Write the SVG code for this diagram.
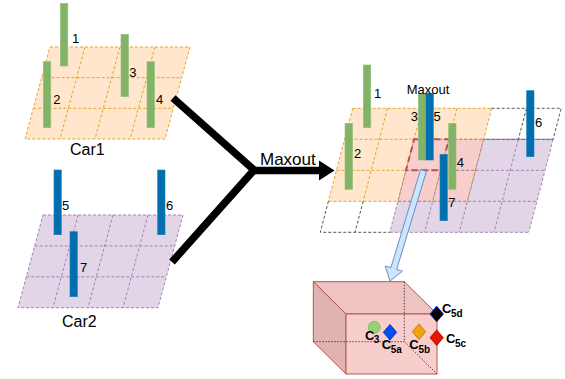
<svg xmlns="http://www.w3.org/2000/svg" width="565" height="379" viewBox="0 0 565 379">
<style>
text{font-family:"Liberation Sans",Arial,sans-serif;fill:#000}
.num{font-size:13px}
.car{font-size:16px}
.org{fill:#ffe6cc;stroke:none}
.pur{fill:#e1d5e7;stroke:none}
.ovl{fill:#f8cecc;stroke:none}
.ol{fill:none;stroke:#e0a82e;stroke-width:1;stroke-dasharray:3 2}
.pl{fill:none;stroke:#a383b3;stroke-width:1;stroke-dasharray:3 2}
.wl{fill:none;stroke:#555;stroke-width:1;stroke-dasharray:3 2}
.g{fill:#82b366;stroke:#93c07a;stroke-width:0.6}
.b{fill:#006eaf;stroke:#1a7fb8;stroke-width:0.6}
.cl{font-size:13px;font-weight:bold}
.sub{font-size:10px;font-weight:bold}
.hid{fill:none;stroke:#222;stroke-width:0.8;stroke-dasharray:1.5 1.5}
</style>

<g id="car1">
<path class="org" d="M50,47H190L165,139H25Z"/>
<path class="ol" d="M50,47H190L165,139H25Z M41.67,77.67H181.67 M33.33,108.33H173.33 M85,47L60,139 M120,47L95,139 M155,47L130,139"/>
<rect class="g" x="60.3" y="3.3" width="7.5" height="62.7"/>
<rect class="g" x="43.3" y="61.7" width="7.5" height="66"/>
<rect class="g" x="121" y="34.3" width="7.5" height="62.4"/>
<rect class="g" x="147" y="61.7" width="7.5" height="66"/>
<text class="num" x="72" y="42.5">1</text>
<text class="num" x="53.3" y="104">2</text>
<text class="num" x="129.3" y="76.5">3</text>
<text class="num" x="156" y="104">4</text>
<text class="car" x="70" y="155">Car1</text>
</g>

<g id="car2">
<path class="pur" d="M43,215H183L158,307.7H18Z"/>
<path class="pl" d="M43,215H183L158,307.7H18Z M34.67,245.9H174.67 M26.33,276.8H166.33 M78,215L53,307.7 M113,215L88,307.7 M148,215L123,307.7"/>
<rect class="b" x="54" y="170" width="7.3" height="64.7"/>
<rect class="b" x="157.7" y="170" width="7.3" height="64.7"/>
<rect class="b" x="70" y="231.7" width="7.3" height="65"/>
<text class="num" x="62" y="209.5">5</text>
<text class="num" x="166" y="209.5">6</text>
<text class="num" x="80" y="271.5">7</text>
<text class="car" x="62" y="327">Car2</text>
</g>

<g id="result">
<path class="org" d="M352.7,108.3H491.7L467.4,201.3H328.4Z"/>
<path class="pur" d="M414.1,139.3H553.1L528.8,232.3H389.8Z"/>
<path class="ovl" d="M414.1,139.3H483.6L467.4,201.3H397.9Z"/>
<path class="ol" d="M352.7,108.3H491.7 M344.6,139.3H483.6 M336.5,170.3H475.5 M328.4,201.3H467.4 M352.7,108.3L328.4,201.3 M387.45,108.3L363.15,201.3 M422.2,108.3L397.9,201.3 M456.95,108.3L432.65,201.3 M491.7,108.3L467.4,201.3"/>
<path class="pl" d="M414.1,139.3H553.1 M406,170.3H545 M397.9,201.3H536.9 M389.8,232.3H528.8 M414.1,139.3L389.8,232.3 M448.85,139.3L424.55,232.3 M483.6,139.3L459.3,232.3 M518.35,139.3L494.05,232.3 M553.1,139.3L528.8,232.3"/>
<path class="wl" d="M491.7,108.3H561.2L553.1,139.3H483.6 M526.45,108.3L518.35,139.3 M328.4,201.3L320.3,232.3H389.8 M363.15,201.3L355.05,232.3"/>
<path d="M414.1,139.3H448.85L440.75,170.3H406Z" fill="none" stroke="#b85450" stroke-width="2" stroke-dasharray="6 4"/>
<rect class="g" x="363.3" y="65" width="7.5" height="62.7"/>
<rect class="g" x="345" y="123.3" width="7.6" height="66"/>
<rect class="g" x="418.3" y="93.3" width="7.7" height="66.7"/>
<rect class="b" x="426" y="93.3" width="7.3" height="66.7"/>
<rect class="g" x="448.7" y="123.3" width="7.3" height="66"/>
<rect class="b" x="440" y="154.3" width="7.3" height="66.4"/>
<rect class="b" x="526.7" y="90.7" width="7.3" height="66"/>
<text class="num" x="374" y="98">1</text>
<text class="num" x="354" y="157.5">2</text>
<text class="num" x="410.7" y="120.7">3</text>
<text class="num" x="433.5" y="120.7">5</text>
<text class="num" x="456.7" y="167">4</text>
<text class="num" x="448.3" y="206.5">7</text>
<text class="num" x="535" y="127">6</text>
<text x="406.7" y="94" style="font-size:13px">Maxout</text>
</g>

<g id="cube">
<path d="M313.3,281.7H404.3L437,314H346Z" fill="#efc3c2" stroke="#b85450" stroke-width="1"/>
<path d="M313.3,281.7L346,314V374L313.3,341.7Z" fill="#deb3b2" stroke="#b85450" stroke-width="1"/>
<rect x="346" y="314" width="91" height="60" fill="#f8cecc" stroke="#b85450" stroke-width="1"/>
<path class="hid" d="M404.3,281.7V341.7 M313.3,341.7H404.3 M404.3,341.7L437,374"/>
<circle cx="374.3" cy="327.3" r="6" fill="#97d077" stroke="#82b366" stroke-width="0.8"/>
<path d="M390,324.5L396.7,332.3L390,340.1L383.3,332.3Z" fill="#0050ef" stroke="#001dbc" stroke-width="0.8"/>
<path d="M419,323.9L425.7,331.7L419,339.5L412.3,331.7Z" fill="#f0a30a" stroke="#bd7000" stroke-width="0.8"/>
<path d="M436.7,329.9L443.4,337.7L436.7,345.5L430,337.7Z" fill="#e51400" stroke="#b20000" stroke-width="0.8"/>
<path d="M436.7,306.2L443.4,314L436.7,321.8L430,314Z" fill="#000" stroke="#001dbc" stroke-width="1"/>
<text class="cl" x="365" y="339.5">C</text><text class="sub" x="373.8" y="342.5">3</text>
<text class="cl" x="381.7" y="348.5">C</text><text class="sub" x="390.7" y="353">5a</text>
<text class="cl" x="409.3" y="348.5">C</text><text class="sub" x="418.5" y="353">5b</text>
<text class="cl" x="446" y="343.3">C</text><text class="sub" x="455" y="347">5c</text>
<text class="cl" x="442" y="313.3">C</text><text class="sub" x="451" y="317">5d</text>
</g>

<g id="connectors">
<polyline points="173,98 254,170 172,262" fill="none" stroke="#000" stroke-width="7.5" stroke-linejoin="miter"/>
<line x1="252" y1="170.5" x2="320" y2="170.5" stroke="#000" stroke-width="7.5"/>
<path d="M319,160.5L334.5,170.5L319,180.5Z" fill="#000"/>
<path d="M426.4,171.4L396.7,269.4L402.4,271.2L390,281L385.2,266L390.9,267.7L420.6,169.6Z" fill="#cce5ff" stroke="#6c8ebf" stroke-width="1"/>
<text x="260" y="165" style="font-size:17px">Maxout</text>
</g>
</svg>
